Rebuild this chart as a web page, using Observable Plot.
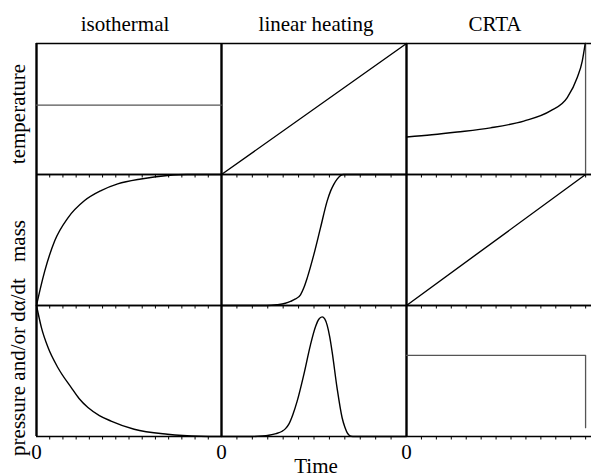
<!DOCTYPE html>
<html>
<head>
<meta charset="utf-8">
<script src="https://cdn.jsdelivr.net/npm/d3@7"></script>
<script src="https://cdn.jsdelivr.net/npm/@observablehq/plot@0.6"></script>
<style>
  html, body { margin: 0; padding: 0; background: #fff; }
</style>
</head>
<body>
<div id="chart"></div>
<script>
// Column (heating program) and row (measured quantity) names
const columns = ["isothermal", "linear heating", "CRTA"];
const rows = ["temperature", "mass", "pressure and/or dα/dt"];
const timeLabel = "Time";
const zeroLabel = "0";

// Minor time ticks per column, as fractions of the panel width
const isoTicks = [1, 2, 3, 4, 5, 6, 7, 8, 9, 10, 11, 12, 13].map(k => k / 14);
const linTicks = [1, 2, 3, 4, 5, 6, 7, 8, 9, 10, 11].map(k => k / 12);
const crtaTicks = [1, 2, 3, 4, 5, 6, 7, 8, 9, 10, 11, 12].map(k => k * 0.0807);

// Curves: [time (fraction of panel), value (fraction of panel)]
const isoTemperature = [[0, 0.53], [1, 0.53]];
const linTemperature = [[0, 0], [1, 1]];
const crtaTemperature = [[0, 0.286], [0.137, 0.303], [0.274, 0.324], [0.454, 0.356], [0.634, 0.408], [0.778, 0.485], [0.869, 0.586], [0.923, 0.74], [0.95, 0.866], [0.966, 1]];
const crtaTemperatureEnd = [[0.968, 1], [0.968, 0]];

const isoMass = [[0, 0], [0.02, 0.125], [0.0448, 0.264], [0.0986, 0.494], [0.17, 0.669], [0.26, 0.801], [0.349, 0.877], [0.439, 0.928], [0.565, 0.966], [0.708, 0.992], [0.815, 1], [1, 1]];
const linMass = [[0, 0], [0.22, 0], [0.27, 0.002], [0.30, 0.006], [0.345, 0.017], [0.373, 0.031], [0.40, 0.05], [0.427, 0.082], [0.445, 0.135], [0.463, 0.209], [0.499, 0.388], [0.535, 0.592], [0.571, 0.797], [0.59, 0.875], [0.607, 0.925], [0.625, 0.965], [0.643, 0.992], [0.66, 1], [1, 1]];
const crtaMass = [[0, 0], [0.968, 1]];

const isoPressure = [[0, 1], [0.027, 0.829], [0.063, 0.677], [0.116, 0.525], [0.188, 0.373], [0.23, 0.29], [0.278, 0.221], [0.34, 0.16], [0.403, 0.118], [0.528, 0.055], [0.708, 0.017], [0.887, 0.002], [1, 0]];
const linPressure = [[0, 0], [0.166, 0], [0.22, 0.004], [0.256, 0.01], [0.295, 0.022], [0.328, 0.04], [0.346, 0.06], [0.364, 0.095], [0.385, 0.165], [0.409, 0.27], [0.445, 0.473], [0.481, 0.7], [0.508, 0.837], [0.526, 0.895], [0.544, 0.913], [0.558, 0.898], [0.571, 0.85], [0.585, 0.76], [0.598, 0.646], [0.625, 0.367], [0.652, 0.143], [0.667, 0.07], [0.679, 0.03], [0.69, 0.01], [0.7, 0.002], [0.72, 0], [1, 0]];
const crtaPressure = [[0, 0.62], [0.968, 0.62], [0.968, 0.067]];

function series(id, col, row, pts) {
  return pts.map(([t, v]) => ({id, col: columns[col], row: rows[row], t, v}));
}

const smoothBlack = [
  ...series("crtaT", 2, 0, crtaTemperature),
  ...series("isoM", 0, 1, isoMass),
  ...series("linM", 1, 1, linMass),
  ...series("isoP", 0, 2, isoPressure),
  ...series("linP", 1, 2, linPressure)
];
const straightBlack = [
  ...series("linT", 1, 0, linTemperature),
  ...series("crtaM", 2, 1, crtaMass)
];
const grayLines = [
  ...series("isoT", 0, 0, isoTemperature),
  ...series("crtaTe", 2, 0, crtaTemperatureEnd),
  ...series("crtaP", 2, 2, crtaPressure)
];
const ticks = [
  ...isoTicks.map(t => ({col: columns[0], t})),
  ...linTicks.map(t => ({col: columns[1], t})),
  ...crtaTicks.map(t => ({col: columns[2], t}))
];

const tickSymbol = {
  draw(context) {
    context.moveTo(0, 0);
    context.lineTo(0, 3);
  }
};

const font = "Liberation Serif, Times New Roman, serif";
const fs = 21;

function colTitle(i, dx) {
  return Plot.text([columns[i]], {fx: () => columns[i], fy: () => rows[0], text: d => d, frameAnchor: "top", lineAnchor: "bottom", dy: -13, dx, fontSize: fs, fill: "black"});
}
function rowTitle(i, dy) {
  return Plot.text([rows[i]], {fy: () => rows[i], fx: () => columns[0], text: d => d, frameAnchor: "left", rotate: -90, textAnchor: "middle", lineAnchor: "middle", dx: -18, dy, fontSize: fs, fill: "black"});
}

const chart = Plot.plot({
  width: 591,
  height: 476,
  marginTop: 42,
  marginBottom: 40,
  marginLeft: 35,
  marginRight: 0,
  style: {fontFamily: font, background: "#fff"},
  x: {domain: [0, 1], axis: null},
  y: {domain: [0, 1], axis: null},
  fx: {domain: columns, padding: 0, axis: null},
  fy: {domain: rows, padding: 0, axis: null},
  marks: [
    Plot.ruleY([0, 1], {stroke: "black", strokeWidth: 1.6}),
    Plot.ruleX([0], {stroke: "black", strokeWidth: 2.4}),
    Plot.dot(ticks, {x: "t", y: 0, fx: "col", symbol: tickSymbol, fill: "none", stroke: "black", strokeWidth: 1}),
    Plot.line(grayLines, {x: "t", y: "v", z: "id", fx: "col", fy: "row", stroke: "#555", strokeWidth: 1.3}),
    Plot.line(straightBlack, {x: "t", y: "v", z: "id", fx: "col", fy: "row", stroke: "black", strokeWidth: 1.4}),
    Plot.line(smoothBlack, {x: "t", y: "v", z: "id", fx: "col", fy: "row", stroke: "black", strokeWidth: 1.4, curve: "monotone-x"}),
    // column titles
    colTitle(0, -4),
    colTitle(1, 2),
    colTitle(2, -4),
    // row titles
    rowTitle(0, 5),
    rowTitle(1, 1),
    rowTitle(2, -4),
    // zero labels
    Plot.text(columns, {fx: d => d, fy: () => rows[2], x: () => 0, y: () => 0, text: () => zeroLabel, lineAnchor: "top", dy: 7.5, fontSize: fs, fill: "black"}),
    // Time label
    Plot.text([timeLabel], {fx: () => columns[1], fy: () => rows[2], text: d => d, frameAnchor: "bottom", lineAnchor: "bottom", dy: 36, dx: 2, fontSize: fs, fill: "black"})
  ]
});

document.getElementById("chart").appendChild(chart);
</script>
</body>
</html>
